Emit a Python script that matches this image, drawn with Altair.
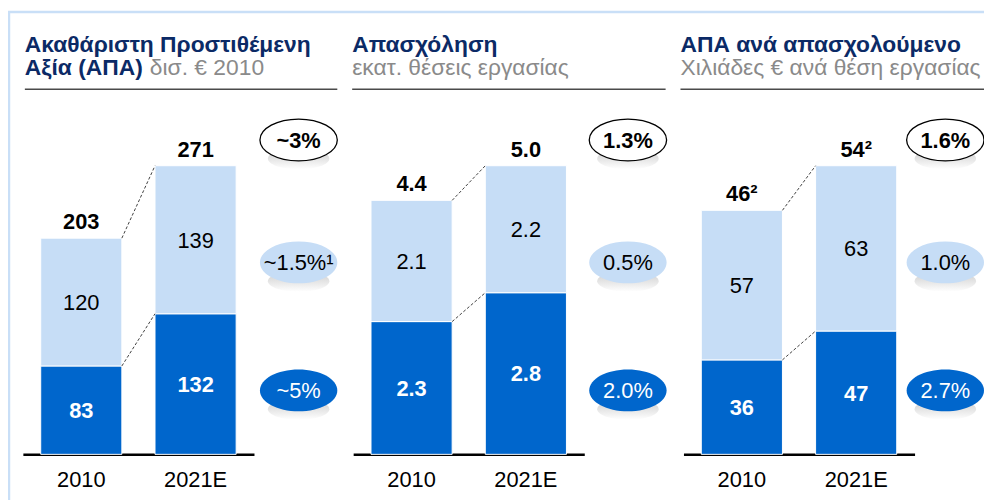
import altair as alt
import pandas as pd

# ---------------- data ----------------
years = ["2010", "2021E"]

gva_dark = [83, 132]
gva_light = [120, 139]
gva_total = ["203", "271"]

emp_dark = [2.3, 2.8]
emp_light = [2.1, 2.2]
emp_total = ["4.4", "5.0"]

prod_dark = [36, 47]
prod_light = [57, 63]
prod_total = ["46²", "54²"]

title_main = ["Ακαθάριστη Προστιθέμενη", "Απασχόληση", "ΑΠΑ ανά απασχολούμενο"]
title_second = "Αξία (ΑΠΑ)"
title_units = ["δισ. € 2010", "εκατ. θέσεις εργασίας", "Χιλιάδες € ανά θέση εργασίας"]

growth_total = ["~3%", "1.3%", "1.6%"]
growth_light = ["~1.5%¹", "0.5%", "1.0%"]
growth_dark = ["~5%", "2.0%", "2.7%"]

# ---------------- style / layout ----------------
FONT = "Liberation Sans"
DARK = "#0066CC"
LIGHT = "#C6DDF6"
NAVY = "#0B2A66"
GREY = "#8A8A8A"
FRAME = "#C9DFF7"

W, H = 984, 448
BASE_Y = 448
TOP_Y = 157
PANEL_X = [17, 347, 678]
PANEL_END = [332, 663, 984]
BAND_RANGE = [(15, 248), (348, 581), (681, 914)]
ELL_X = [293, 625, 945]
ELL_Y = [131, 254.5, 383.5]
TITLE_Y1, TITLE_Y2 = 42, 66
UNDERLINE_Y = 80

ELL = "M-1,0A1,0.54,0,1,0,1,0A1,0.54,0,1,0,-1,0Z"
SHADOW = "M-1,0A1,0.34,0,1,0,1,0A1,0.34,0,1,0,-1,0Z"
SHADOW_FILL = {
    "gradient": "linear", "x1": 0, "y1": 0, "x2": 0, "y2": 1,
    "stops": [{"offset": 0, "color": "#bdbdbd"}, {"offset": 1, "color": "#ffffff"}],
}

one = pd.DataFrame({"k": [0]})


def txt(s, x, y, size, weight, color, align="left", baseline="alphabetic"):
    return alt.Chart(pd.DataFrame({"t": [s]})).mark_text(
        font=FONT, fontSize=size, fontWeight=weight, color=color,
        align=align, baseline=baseline,
    ).encode(text="t:N", x=alt.value(x), y=alt.value(y))


def hrule(x1, x2, y, color, width):
    return alt.Chart(one).mark_rule(color=color, strokeWidth=width).encode(
        x=alt.value(x1), x2=alt.value(x2), y=alt.value(y))


def vrule(x, y1, y2, color, width):
    return alt.Chart(one).mark_rule(color=color, strokeWidth=width).encode(
        x=alt.value(x), y=alt.value(y1), y2=alt.value(y2))


def bubble(cx, cy, text, fill, tcolor, weight, stroke=False):
    d = pd.DataFrame({"t": [text]})
    base = alt.Chart(d)
    sh = base.mark_point(shape=SHADOW, size=62 ** 2, filled=True, fill=SHADOW_FILL,
                         opacity=0.8, strokeWidth=0).encode(
        x=alt.value(cx), y=alt.value(cy + 19))
    kw = dict(shape=ELL, size=78 ** 2, filled=True, fill=fill, opacity=1, fillOpacity=1)
    if stroke:
        kw.update(stroke="black", strokeWidth=1.3, strokeOpacity=1)
    else:
        kw.update(strokeWidth=0)
    el = base.mark_point(**kw).encode(x=alt.value(cx), y=alt.value(cy))
    tx = base.mark_text(font=FONT, fontSize=22, fontWeight=weight, color=tcolor,
                        align="center", baseline="middle", dy=1).encode(
        text="t:N", x=alt.value(cx), y=alt.value(cy))
    return [sh, el, tx]


def panel(dark, light, totals, rng):
    n = len(years)
    tops = [d + l for d, l in zip(dark, light)]
    seg = pd.DataFrame({
        "year": years * 2,
        "seg": ["dark"] * n + ["light"] * n,
        "y0": [0] * n + list(dark),
        "y1": list(dark) + tops,
        "label": [str(v) for v in dark] + [str(v) for v in light],
    })
    seg["mid"] = (seg["y0"] + seg["y1"]) / 2
    tot = pd.DataFrame({"year": years, "top": tops, "label": totals})
    conn = pd.DataFrame({"a": [years[0]] * 2, "b": [years[1]] * 2,
                         "ya": [tops[0], dark[0]], "yb": [tops[1], dark[1]]})

    xs = alt.Scale(domain=years, range=list(rng), paddingInner=0.29, paddingOuter=0.156)
    ys = alt.Scale(domain=[0, max(tops)], range=[BASE_Y, TOP_Y], nice=False, zero=True)
    xax = alt.Axis(orient="bottom", title=None)

    bars = alt.Chart(seg).mark_bar(stroke="white", strokeWidth=1).encode(
        x=alt.X("year:N", scale=xs, axis=xax),
        y=alt.Y("y0:Q", scale=ys, axis=None),
        y2="y1:Q",
        color=alt.Color("seg:N", scale=alt.Scale(domain=["dark", "light"], range=[DARK, LIGHT]),
                        legend=None),
    )
    lab_dark = alt.Chart(seg).transform_filter("datum.seg == 'dark'").mark_text(
        font=FONT, fontSize=22, fontWeight="bold", color="white", baseline="middle", dy=1
    ).encode(x=alt.X("year:N", scale=xs, axis=xax),
             y=alt.Y("mid:Q", scale=ys, axis=None), text="label:N")
    lab_light = alt.Chart(seg).transform_filter("datum.seg == 'light'").mark_text(
        font=FONT, fontSize=22, fontWeight="normal", color="black", baseline="middle", dy=1
    ).encode(x=alt.X("year:N", scale=xs, axis=xax),
             y=alt.Y("mid:Q", scale=ys, axis=None), text="label:N")
    tot_lab = alt.Chart(tot).mark_text(
        font=FONT, fontSize=22, fontWeight="bold", color="black", baseline="middle", dy=-16
    ).encode(x=alt.X("year:N", scale=xs, axis=xax),
             y=alt.Y("top:Q", scale=ys, axis=None), text="label:N")
    lines = alt.Chart(conn).mark_rule(color="#404040", strokeDash=[3, 2], strokeWidth=1).encode(
        x=alt.X("a:N", scale=xs, axis=xax, bandPosition=1),
        x2=alt.X2("b:N", bandPosition=0),
        y=alt.Y("ya:Q", scale=ys, axis=None),
        y2="yb:Q",
    )
    return alt.layer(bars, lines, lab_dark, lab_light, tot_lab)


layers = []
# frame
layers.append(hrule(0, W, 2, FRAME, 2.5))
layers.append(vrule(1, 2, 500, FRAME, 2.5))
# titles
for i in range(3):
    layers.append(txt(title_main[i], PANEL_X[i], TITLE_Y1, 23, "bold", NAVY))
    layers.append(hrule(PANEL_X[i], PANEL_END[i], UNDERLINE_Y, "#4a4a4a", 1.5))
layers.append(txt(title_second, PANEL_X[0], TITLE_Y2, 23, "bold", NAVY))
layers.append(txt(title_units[0], 143, TITLE_Y2, 23, "normal", GREY))
layers.append(txt(title_units[1], PANEL_X[1], TITLE_Y2, 23, "normal", GREY))
layers.append(txt(title_units[2], PANEL_X[2], TITLE_Y2, 23, "normal", GREY))

layers.append(panel(gva_dark, gva_light, gva_total, BAND_RANGE[0]))
layers.append(panel(emp_dark, emp_light, emp_total, BAND_RANGE[1]))
layers.append(panel(prod_dark, prod_light, prod_total, BAND_RANGE[2]))

for i in range(3):
    layers += bubble(ELL_X[i], ELL_Y[0], growth_total[i], "white", "black", "bold", stroke=True)
    layers += bubble(ELL_X[i], ELL_Y[1], growth_light[i], LIGHT, "black", "normal")
    layers += bubble(ELL_X[i], ELL_Y[2], growth_dark[i], DARK, "white", "normal")

chart = alt.layer(*layers).resolve_scale(x="independent", y="independent").properties(
    width=W, height=H,
    padding={"left": 0, "right": 0, "top": 0, "bottom": 44},
    autosize=alt.AutoSizeParams(type="none"),
).configure_view(stroke=None).configure_axisX(
    domainColor="black", domainWidth=2.5, labelFontSize=22, labelColor="black",
    labelFont=FONT, ticks=False, tickSize=0, labelPadding=15, grid=False, labelAngle=0,
)

chart.save("out.html", embed_options={"renderer": "svg", "actions": False})
